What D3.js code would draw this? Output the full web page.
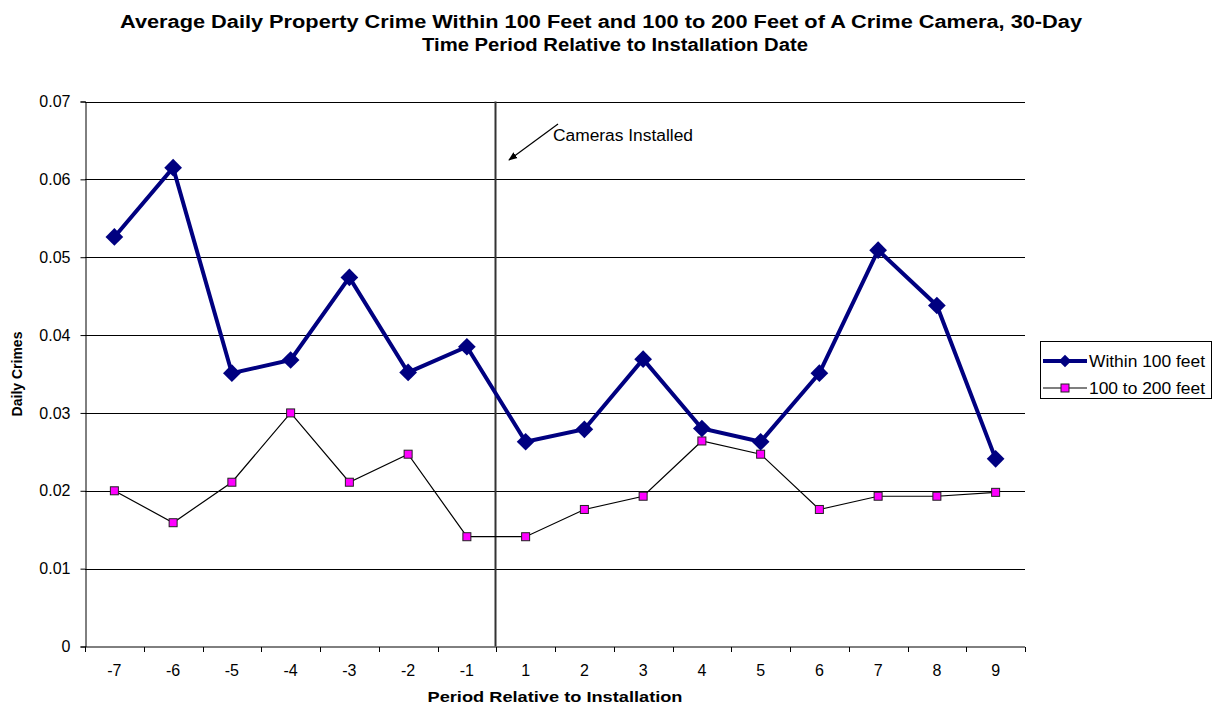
<!DOCTYPE html>
<html>
<head>
<meta charset="utf-8">
<script src="https://cdn.jsdelivr.net/npm/d3@7"></script>
<style>
  body { margin: 0; background: #fff; }
  svg { font-family: "Liberation Sans", Arial, sans-serif; }
</style>
</head>
<body>
<svg id="chart" width="1217" height="709"></svg>
<script>
// periods relative to camera installation
var periods = ["-7", "-6", "-5", "-4", "-3", "-2", "-1", "1", "2", "3", "4", "5", "6", "7", "8", "9"];
var within100 = [0.0526, 0.0615, 0.0351, 0.0368, 0.0474, 0.0352, 0.0385, 0.0263, 0.0279, 0.0369, 0.0280, 0.0263, 0.0351, 0.0509, 0.0438, 0.0241];
var from100to200 = [0.0200, 0.0159, 0.0211, 0.0300, 0.0211, 0.0247, 0.0141, 0.0141, 0.0176, 0.0193, 0.0264, 0.0247, 0.0176, 0.0193, 0.0193, 0.0198];
var yTicks = [0, 0.01, 0.02, 0.03, 0.04, 0.05, 0.06, 0.07];
var seriesNames = ["Within 100 feet", "100 to 200 feet"];

var svg = d3.select("#chart");

var plotLeft = 85, plotRight = 1025, plotTop = 101.5, plotBottom = 646.5;

var x = d3.scaleBand().domain(periods).range([plotLeft, plotRight]);
var y = d3.scaleLinear().domain([0, 0.07]).range([plotBottom, plotTop]);

// title (the original is a bit stretched sideways)
var title = svg.append("text")
    .attr("text-anchor", "middle")
    .attr("font-weight", "bold")
    .attr("font-size", 18)
    .attr("fill", "#000");
title.append("tspan").attr("x", 601).attr("y", 28)
    .attr("textLength", 962).attr("lengthAdjust", "spacingAndGlyphs")
    .text("Average Daily Property Crime Within 100 Feet and 100 to 200 Feet of A Crime Camera, 30-Day");
title.append("tspan").attr("x", 615).attr("y", 51)
    .attr("textLength", 386).attr("lengthAdjust", "spacingAndGlyphs")
    .text("Time Period Relative to Installation Date");

// gridlines
svg.append("g")
    .selectAll("line")
    .data(yTicks.slice(1))
    .enter()
    .append("line")
    .attr("x1", plotLeft).attr("x2", plotRight)
    .attr("y1", function(d) { return Math.round(y(d)) + 0.5; })
    .attr("y2", function(d) { return Math.round(y(d)) + 0.5; })
    .attr("stroke", "#000")
    .attr("stroke-width", 1);

// y axis
var yAxis = svg.append("g")
    .attr("transform", "translate(" + (plotLeft + 0.5) + ",0)")
    .call(d3.axisLeft(y).tickValues(yTicks)
        .tickFormat(function(d) { return d === 0 ? "0" : d3.format(".2f")(d); })
        .tickSizeOuter(0).tickSize(5).tickPadding(10));
yAxis.selectAll("text")
    .attr("font-size", 16)
    .attr("fill", "#000")
    .attr("font-family", "Liberation Sans, Arial, sans-serif");
yAxis.selectAll("line, path").attr("stroke", "#000");

// x axis: ticks sit on the band edges
var xAxis = svg.append("g")
    .attr("transform", "translate(0," + (plotBottom + 0.5) + ")");
xAxis.append("line")
    .attr("x1", plotLeft).attr("x2", plotRight)
    .attr("stroke", "#000");
xAxis.selectAll("line.tick")
    .data(periods.concat(["end"]))
    .enter()
    .append("line")
    .attr("class", "tick")
    .attr("x1", function(d, i) { return Math.round(plotLeft + i * x.bandwidth()) + 0.5; })
    .attr("x2", function(d, i) { return Math.round(plotLeft + i * x.bandwidth()) + 0.5; })
    .attr("y1", 0).attr("y2", 5)
    .attr("stroke", "#000");
xAxis.selectAll("text")
    .data(periods)
    .enter()
    .append("text")
    .attr("x", function(d) { return x(d) + x.bandwidth() / 2; })
    .attr("y", 29)
    .attr("text-anchor", "middle")
    .attr("font-size", 16)
    .text(function(d) { return d; });

// installation marker between -1 and 1
var installX = Math.round(x("1")) - 0.5;
svg.append("line")
    .attr("x1", installX).attr("x2", installX)
    .attr("y1", plotTop).attr("y2", plotBottom)
    .attr("stroke", "#333")
    .attr("stroke-width", 2);

// annotation
svg.append("defs").append("marker")
    .attr("id", "arrow")
    .attr("viewBox", "0 0 10 10")
    .attr("refX", 9).attr("refY", 5)
    .attr("markerWidth", 9).attr("markerHeight", 9)
    .attr("markerUnits", "userSpaceOnUse")
    .attr("orient", "auto")
    .append("path")
    .attr("d", "M0,1 L10,5 L0,9 z")
    .attr("fill", "#000");
svg.append("line")
    .attr("x1", 558).attr("y1", 124)
    .attr("x2", 509).attr("y2", 160)
    .attr("stroke", "#000")
    .attr("stroke-width", 1.2)
    .attr("marker-end", "url(#arrow)");
svg.append("text")
    .attr("x", 553).attr("y", 141)
    .attr("font-size", 16)
    .attr("textLength", 140).attr("lengthAdjust", "spacingAndGlyphs")
    .text("Cameras Installed");

var cx = function(d, i) { return x(periods[i]) + x.bandwidth() / 2; };

var line = d3.line()
    .x(function(d, i) { return cx(d, i); })
    .y(function(d) { return y(d); });

// 100 to 200 feet
svg.append("path")
    .datum(from100to200)
    .attr("d", line)
    .attr("fill", "none")
    .attr("stroke", "#000")
    .attr("stroke-width", 1.2);
svg.append("g")
    .selectAll("rect")
    .data(from100to200)
    .enter()
    .append("rect")
    .attr("x", function(d, i) { return cx(d, i) - 4; })
    .attr("y", function(d) { return y(d) - 4; })
    .attr("width", 8).attr("height", 8)
    .attr("fill", "#ff00ff")
    .attr("stroke", "#222")
    .attr("stroke-width", 1);

// within 100 feet
var diamondType = d3.symbolDiamond2 || d3.symbolDiamond;
var diamond = d3.symbol().type(diamondType).size(200);
svg.append("path")
    .datum(within100)
    .attr("d", line)
    .attr("fill", "none")
    .attr("stroke", "#000080")
    .attr("stroke-width", 4);
svg.append("g")
    .selectAll("path")
    .data(within100)
    .enter()
    .append("path")
    .attr("d", diamond)
    .attr("transform", function(d, i) { return "translate(" + cx(d, i) + "," + y(d) + ")"; })
    .attr("fill", "#000080");

// axis titles
svg.append("text")
    .attr("x", 555).attr("y", 702)
    .attr("text-anchor", "middle")
    .attr("font-weight", "bold")
    .attr("font-size", 15)
    .attr("textLength", 255).attr("lengthAdjust", "spacingAndGlyphs")
    .text("Period Relative to Installation");
svg.append("text")
    .attr("transform", "translate(22," + ((plotTop + plotBottom) / 2) + ") rotate(-90)")
    .attr("text-anchor", "middle")
    .attr("font-weight", "bold")
    .attr("font-size", 14)
    .text("Daily Crimes");

// legend
var legend = svg.append("g");
legend.append("rect")
    .attr("x", 1040.5).attr("y", 341.5)
    .attr("width", 171).attr("height", 57)
    .attr("fill", "#fff")
    .attr("stroke", "#000");
var entries = legend.selectAll("g.entry")
    .data(seriesNames)
    .enter()
    .append("g")
    .attr("class", "entry")
    .attr("transform", function(d, i) { return "translate(0," + (361 + i * 27) + ")"; });
entries.append("line")
    .attr("x1", 1043).attr("x2", 1087)
    .attr("stroke", function(d, i) { return i === 0 ? "#000080" : "#000"; })
    .attr("stroke-width", function(d, i) { return i === 0 ? 4 : 1.2; });
entries.each(function(d, i) {
    var g = d3.select(this);
    if (i === 0) {
        g.append("path")
            .attr("d", d3.symbol().type(diamondType).size(100))
            .attr("transform", "translate(1065,0)")
            .attr("fill", "#000080");
    } else {
        g.append("rect")
            .attr("x", 1061).attr("y", -4)
            .attr("width", 8).attr("height", 8)
            .attr("fill", "#ff00ff")
            .attr("stroke", "#222");
    }
});
entries.append("text")
    .attr("x", 1089).attr("y", 6)
    .attr("font-size", 16)
    .attr("textLength", 116).attr("lengthAdjust", "spacingAndGlyphs")
    .text(function(d) { return d; });
</script>
</body>
</html>
